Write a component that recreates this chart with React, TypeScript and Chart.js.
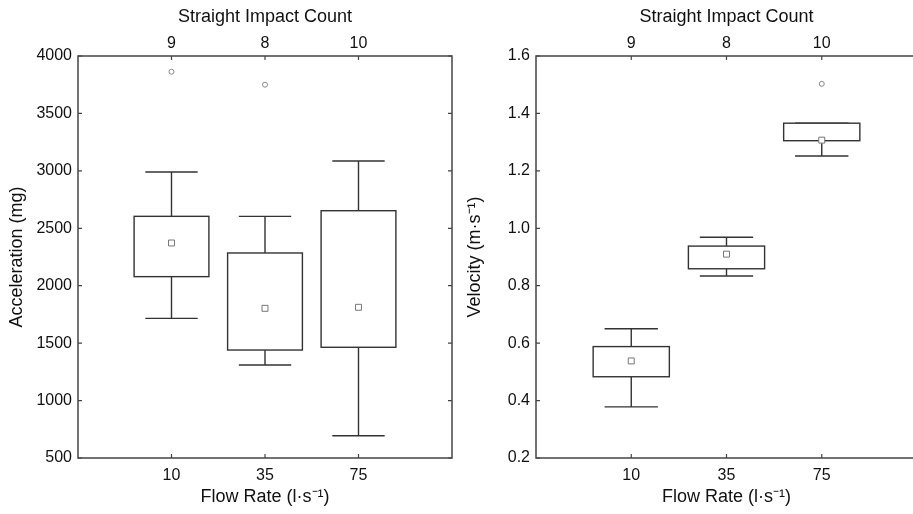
import { useEffect, useRef } from 'react';
import { Chart, registerables } from 'chart.js';

Chart.register(...registerables);

// ---- Data ----
const flowRates = ['10', '35', '75'];
const impactCounts = ['9', '8', '10'];

const accMin = [1716, 1310, 694];
const accQ1 = [2079, 1440, 1464];
const accQ3 = [2604, 2285, 2653];
const accMax = [2990, 2604, 3086];
const accMean = [2372, 1803, 1812];
const accOutliers = [3863, 3750, null];

const velMin = [0.378, 0.834, 1.252];
const velQ1 = [0.483, 0.859, 1.305];
const velQ3 = [0.588, 0.938, 1.366];
const velMax = [0.65, 0.969, 1.366];
const velMean = [0.538, 0.91, 1.307];
const velOutliers = [null, null, 1.503];

const accTicks = [500, 1000, 1500, 2000, 2500, 3000, 3500, 4000];
const velTicks = [0.2, 0.4, 0.6, 0.8, 1.0, 1.2, 1.4, 1.6];

// ---- Style ----
const FONT = '"Liberation Sans", Arial, Helvetica, sans-serif';
const TEXT = '#111';
const BOX_W = 0.8;
const CAP_W = 0.56;

type Spec = {
  yTitle: string;
  ticks: number[];
  decimals: number;
  min: number[];
  q1: number[];
  q3: number[];
  max: number[];
  mean: number[];
  outliers: (number | null)[];
  padRight: number;
};

function buildConfig(spec: Spec): any {
  const { yTitle, ticks, decimals, min, q1, q3, max, mean, outliers, padRight } = spec;

  const boxPlugin = {
    id: 'boxes',
    beforeDatasetsDraw(chart: any) {
      const { ctx, scales } = chart;
      const x = scales.x;
      const y = scales.y;
      ctx.save();
      ctx.strokeStyle = '#333';
      ctx.lineWidth = 1.4;
      for (let i = 0; i < q1.length; i++) {
        const c = i + 1;
        const cx = x.getPixelForValue(c);
        const bl = x.getPixelForValue(c - BOX_W / 2);
        const br = x.getPixelForValue(c + BOX_W / 2);
        const cl = x.getPixelForValue(c - CAP_W / 2);
        const cr = x.getPixelForValue(c + CAP_W / 2);
        const yq1 = y.getPixelForValue(q1[i]);
        const yq3 = y.getPixelForValue(q3[i]);
        const ymin = y.getPixelForValue(min[i]);
        const ymax = y.getPixelForValue(max[i]);
        ctx.beginPath();
        ctx.moveTo(cx, yq3);
        ctx.lineTo(cx, ymax);
        ctx.moveTo(cl, ymax);
        ctx.lineTo(cr, ymax);
        ctx.moveTo(cx, yq1);
        ctx.lineTo(cx, ymin);
        ctx.moveTo(cl, ymin);
        ctx.lineTo(cr, ymin);
        ctx.stroke();
        ctx.fillStyle = '#fff';
        ctx.fillRect(bl, yq3, br - bl, yq1 - yq3);
        ctx.strokeRect(bl, yq3, br - bl, yq1 - yq3);
      }
      ctx.restore();
    },
  };

  const framePlugin = {
    id: 'frame',
    afterDraw(chart: any) {
      const { ctx, chartArea: a, scales } = chart;
      ctx.save();
      ctx.strokeStyle = '#444';
      ctx.lineWidth = 1.5;
      ctx.strokeRect(a.left, a.top, a.right - a.left, a.bottom - a.top);
      ctx.lineWidth = 1.2;
      const TL = 4;
      ctx.beginPath();
      scales.x.ticks.forEach((t: any) => {
        const px = scales.x.getPixelForValue(t.value);
        ctx.moveTo(px, a.bottom);
        ctx.lineTo(px, a.bottom - TL);
        ctx.moveTo(px, a.top);
        ctx.lineTo(px, a.top + TL);
      });
      scales.y.ticks.forEach((t: any) => {
        const py = scales.y.getPixelForValue(t.value);
        ctx.moveTo(a.left, py);
        ctx.lineTo(a.left + TL, py);
        ctx.moveTo(a.right, py);
        ctx.lineTo(a.right - TL, py);
      });
      ctx.stroke();
      ctx.restore();
    },
  };

  const setCatTicks = (s: any) => {
    s.ticks = flowRates.map((_, i) => ({ value: i + 1 }));
  };

  const tickFont = { family: FONT, size: 16 };
  const titleFont = { family: FONT, size: 18 };

  const outlierData = outliers
    .map((v, i) => (v == null ? null : { x: i + 1, y: v }))
    .filter((p) => p !== null);

  return {
    type: 'scatter',
    data: {
      datasets: [
        {
          data: mean.map((v, i) => ({ x: i + 1, y: v })),
          pointStyle: 'rect',
          pointRadius: 4.2,
          borderColor: '#777',
          backgroundColor: '#fff',
          borderWidth: 1,
          showLine: false,
          xAxisID: 'x',
          yAxisID: 'y',
        },
        {
          data: outlierData,
          pointStyle: 'circle',
          pointRadius: 2.5,
          borderColor: '#888',
          backgroundColor: 'rgba(255,255,255,0)',
          borderWidth: 1,
          showLine: false,
          xAxisID: 'x',
          yAxisID: 'y',
        },
      ],
    },
    options: {
      animation: false,
      responsive: false,
      events: [],
      layout: { padding: { left: 0, right: padRight, top: 0, bottom: 0 } },
      plugins: {
        legend: { display: false },
        tooltip: { enabled: false },
      },
      scales: {
        x: {
          type: 'linear',
          position: 'bottom',
          min: 0,
          max: 4,
          afterBuildTicks: setCatTicks,
          afterFit: (s: any) => {
            s.height = 56;
          },
          grid: { display: false, drawTicks: false },
          border: { display: false },
          ticks: {
            padding: 8,
            color: TEXT,
            font: tickFont,
            maxRotation: 0,
            autoSkip: false,
            callback: (v: number) => flowRates[v - 1] ?? '',
          },
          title: {
            display: true,
            text: 'Flow Rate (l·s⁻¹)',
            color: TEXT,
            font: titleFont,
            padding: { top: 0, bottom: 6 },
          },
        },
        x2: {
          type: 'linear',
          position: 'top',
          min: 0,
          max: 4,
          afterBuildTicks: setCatTicks,
          afterFit: (s: any) => {
            s.height = 56;
          },
          grid: { display: false, drawTicks: false },
          border: { display: false },
          ticks: {
            padding: 3,
            color: TEXT,
            font: tickFont,
            maxRotation: 0,
            autoSkip: false,
            callback: (v: number) => impactCounts[v - 1] ?? '',
          },
          title: {
            display: true,
            text: 'Straight Impact Count',
            color: TEXT,
            font: titleFont,
            padding: { top: 6, bottom: 0 },
          },
        },
        y: {
          type: 'linear',
          position: 'left',
          min: ticks[0],
          max: ticks[ticks.length - 1],
          afterBuildTicks: (s: any) => {
            s.ticks = ticks.map((v) => ({ value: v }));
          },
          afterFit: (s: any) => {
            s.width = 78;
          },
          grid: { display: false, drawTicks: false },
          border: { display: false },
          ticks: {
            padding: 6,
            color: TEXT,
            font: tickFont,
            autoSkip: false,
            callback: (v: number) => v.toFixed(decimals),
          },
          title: {
            display: true,
            text: yTitle,
            color: TEXT,
            font: titleFont,
            padding: { top: 6, bottom: 0 },
          },
        },
      },
    },
    plugins: [boxPlugin, framePlugin],
  };
}

function Panel({ left, width, spec }: { left: number; width: number; spec: Spec }) {
  const ref = useRef<HTMLCanvasElement>(null);
  useEffect(() => {
    const chart = new Chart(ref.current as HTMLCanvasElement, buildConfig(spec));
    return () => chart.destroy();
  }, []);
  return (
    <div style={{ position: 'absolute', left, top: 0, width, height: 514 }}>
      <canvas ref={ref} width={width} height={514} style={{ display: 'block' }} />
    </div>
  );
}

export default function App() {
  return (
    <div
      style={{
        position: 'absolute',
        left: 0,
        top: 0,
        width: 913,
        height: 514,
        overflow: 'hidden',
        background: '#fff',
      }}
    >
      <Panel
        left={0}
        width={458}
        spec={{
          yTitle: 'Acceleration (mg)',
          ticks: accTicks,
          decimals: 0,
          min: accMin,
          q1: accQ1,
          q3: accQ3,
          max: accMax,
          mean: accMean,
          outliers: accOutliers,
          padRight: 6,
        }}
      />
      <Panel
        left={458}
        width={466}
        spec={{
          yTitle: 'Velocity (m·s⁻¹)',
          ticks: velTicks,
          decimals: 1,
          min: velMin,
          q1: velQ1,
          q3: velQ3,
          max: velMax,
          mean: velMean,
          outliers: velOutliers,
          padRight: 7,
        }}
      />
    </div>
  );
}
